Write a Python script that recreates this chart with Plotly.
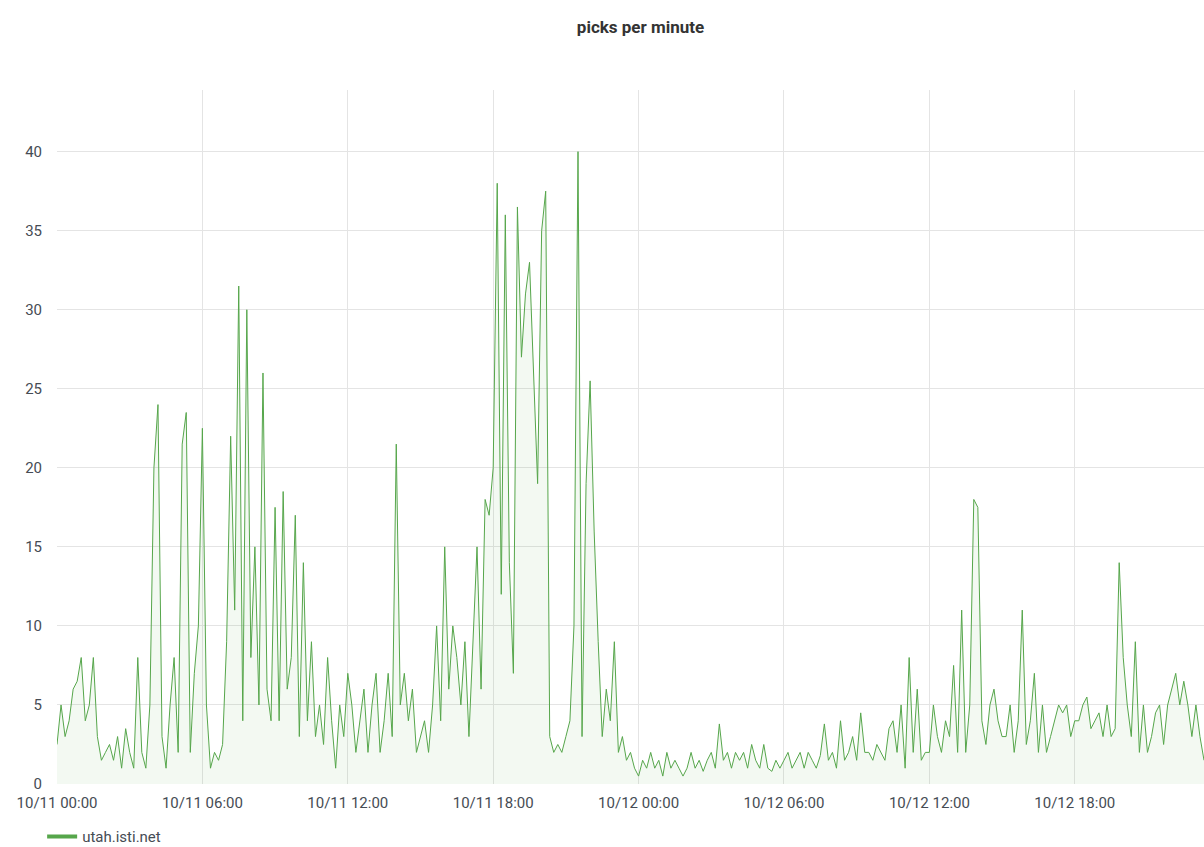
import pandas as pd
import plotly.graph_objects as go

series_name = "utah.isti.net"
start_time = "2020-10-11 00:00"
step = "10min"

# picks per minute, one value per 10 minutes, grouped by hour
picks = [
    2.5, 5, 3, 4, 6, 6.5,
    8, 4, 5, 8, 3, 1.5,
    2, 2.5, 1.5, 3, 1, 3.5,
    2, 1, 8, 2, 1, 5,
    20, 24, 3, 1, 5, 8,
    2, 21.5, 23.5, 2, 7, 10,
    22.5, 5, 1, 2, 1.5, 2.5,
    9, 22, 11, 31.5, 4, 30,
    8, 15, 5, 26, 6, 4,
    17.5, 4, 18.5, 6, 8, 17,
    3, 14, 4, 9, 3, 5,
    2.5, 8, 4, 1, 5, 3,
    7, 5, 2, 4, 6, 2,
    5, 7, 2, 4, 7, 3,
    21.5, 5, 7, 4, 6, 2,
    3, 4, 2, 5, 10, 4,
    15, 6, 10, 8, 5, 9,
    3, 9, 15, 6, 18, 17,
    20, 38, 12, 36, 14, 7,
    36.5, 27, 31, 33, 26, 19,
    35, 37.5, 3, 2, 2.5, 2,
    3, 4, 10, 40, 3, 19,
    25.5, 16, 9, 3, 6, 4,
    9, 2, 3, 1.5, 2, 1,
    0.5, 1.5, 1, 2, 1, 1.5,
    0.5, 2, 1, 1.5, 1, 0.5,
    1, 2, 1, 1.5, 0.8, 1.5,
    2, 1, 3.8, 1.5, 2, 1,
    2, 1.5, 2, 1, 2.5, 1.5,
    1, 2.5, 1, 0.8, 1.5, 1,
    1.5, 2, 1, 1.5, 2, 1,
    2, 1.5, 1, 1.8, 3.8, 1.5,
    2, 1, 4, 1.5, 2, 3,
    1.5, 4.5, 2, 2, 1.5, 2.5,
    2, 1.5, 3.5, 4, 2, 5,
    1, 8, 2, 6, 1.5, 2,
    2, 5, 3, 2, 4, 3,
    7.5, 2, 11, 2, 5, 18,
    17.5, 4, 2.5, 5, 6, 4,
    3, 3, 5, 2, 4, 11,
    2.5, 4, 7, 2, 5, 2,
    3, 4, 5, 4.5, 5, 3,
    4, 4, 5, 5.5, 3.5, 4,
    4.5, 3, 5, 3, 3.5, 14,
    8, 5, 3, 9, 2, 5,
    2, 3, 4.5, 5, 2.5, 5,
    6, 7, 5, 6.5, 5, 3,
    5, 3, 1.5,
]

times = pd.date_range(start_time, periods=len(picks), freq=step)
green = "#56A64B"

fig = go.Figure()
fig.add_trace(go.Scatter(
    x=times, y=picks, mode="lines", name=series_name, showlegend=False,
    line=dict(color=green, width=1),
    fill="tozeroy", fillcolor="rgba(86,166,75,0.07)",
))
# thicker legend swatch, like the dashboard legend
fig.add_trace(go.Scatter(
    x=[None], y=[None], mode="lines", name=series_name,
    line=dict(color=green, width=4), showlegend=True,
))

fig.update_layout(
    width=1204, height=847,
    title=dict(text="<b>picks per minute</b>", x=0.532, y=0.975, xanchor="center",
               font=dict(size=17, color="#333", family="Roboto")),
    font=dict(family="Roboto", size=15, color="#464c54"),
    plot_bgcolor="white", paper_bgcolor="white",
    margin=dict(l=57, r=0, t=90, b=63),
    showlegend=True,
    legend=dict(orientation="h", x=0.035, y=0.012, xref="container", yref="container",
                xanchor="left", yanchor="middle", font=dict(size=15)),
)
fig.update_xaxes(
    range=[times[0], times[-1]], automargin=False,
    tickformat="%m/%d %H:%M", dtick=6 * 3600 * 1000,
    showgrid=True, gridcolor="#e4e4e4", zeroline=False, showline=False,
    ticks="", ticklabelstandoff=8,
)
fig.update_yaxes(
    range=[0, 43.9], dtick=5, automargin=False,
    showgrid=True, gridcolor="#e4e4e4", zeroline=False,
    ticklabelstandoff=14,
)

fig.write_html("out.html", config={"displayModeBar": False},
               post_script="document.body.style.margin='0';document.body.style.overflow='hidden';")
